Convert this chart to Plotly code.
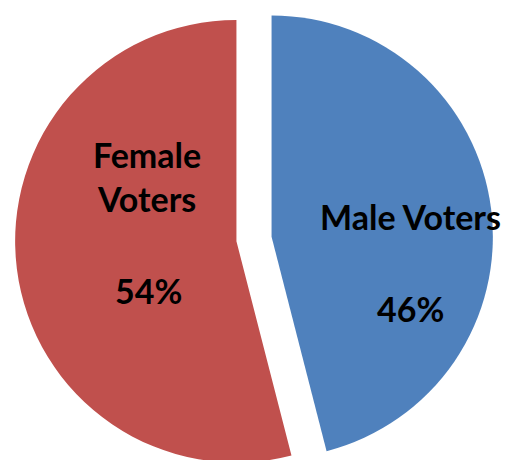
import plotly.graph_objects as go

labels = ["Male Voters", "Female Voters"]
values = [46, 54]
colors = ["#4F81BD", "#C0504D"]
label_lines = ["Male Voters", "Female<br>Voters"]
pct_text = ["46%", "54%"]

W, H = 508, 478

fig = go.Figure(go.Pie(
    labels=labels, values=values, sort=False, direction="clockwise", rotation=0,
    marker=dict(colors=colors, line=dict(width=0)),
    pull=[0.08, 0.08], textinfo="none", hoverinfo="label+percent",
    domain=dict(x=[0, 1], y=[0, 1]),
))

font = dict(family="Lato, sans-serif", size=34, color="black")
# label positions in pixels (center x, center y)
name_pos = [(410, 216), (147, 176)]
pct_pos = [(410, 308), (148, 290)]
ann = []
for i in range(2):
    for txt, (px, py) in ((label_lines[i], name_pos[i]), (pct_text[i], pct_pos[i])):
        ann.append(dict(text=f"<b>{txt}</b>", x=px / W, y=1 - py / H, xref="paper", yref="paper",
                        xanchor="center", yanchor="middle", showarrow=False, font=font))

fig.update_layout(width=W, height=H, margin=dict(l=0, r=0, t=0, b=0),
                  showlegend=False, paper_bgcolor="white", plot_bgcolor="white",
                  annotations=ann)
fig.write_html("out.html")
